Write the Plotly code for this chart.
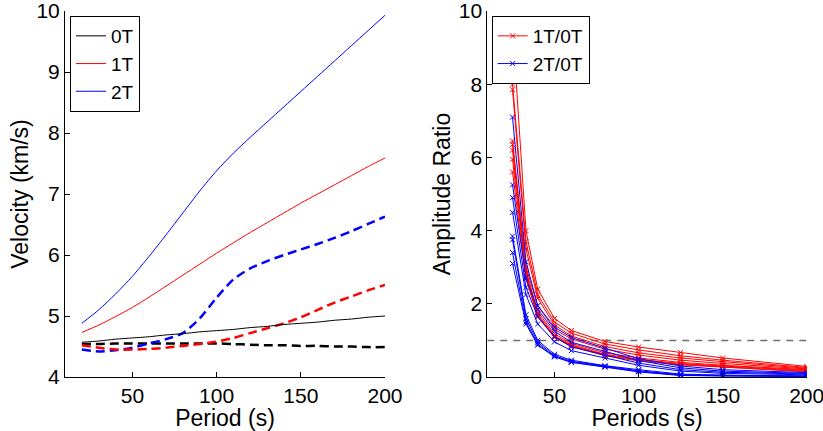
import plotly.graph_objects as go

# ---- Left panel: velocity vs period ----
period = [20, 30, 40, 50, 60, 70, 80, 90, 100, 110, 120, 130, 140, 150, 160, 170, 180, 190, 200]

vel_0T = [4.57, 4.59, 4.62, 4.64, 4.66, 4.69, 4.71, 4.74, 4.76, 4.78, 4.81, 4.83, 4.86, 4.88, 4.90, 4.93, 4.95, 4.98, 5.00]
vel_1T = [4.73, 4.85, 4.99, 5.14, 5.31, 5.49, 5.67, 5.85, 6.03, 6.20, 6.37, 6.53, 6.69, 6.85, 7.00, 7.15, 7.30, 7.45, 7.59]
vel_2T = [4.88, 5.10, 5.36, 5.65, 5.98, 6.33, 6.69, 7.05, 7.38, 7.67, 7.93, 8.18, 8.43, 8.68, 8.93, 9.18, 9.43, 9.68, 9.93]

vel_0T_d = [4.54, 4.54, 4.55, 4.55, 4.55, 4.55, 4.55, 4.55, 4.55, 4.54, 4.53, 4.52, 4.52, 4.51, 4.51, 4.50, 4.50, 4.49, 4.49]
vel_1T_d = [4.52, 4.48, 4.45, 4.45, 4.46, 4.48, 4.51, 4.54, 4.58, 4.64, 4.72, 4.80, 4.88, 4.98, 5.10, 5.22, 5.32, 5.42, 5.51]
vel_2T_d = [4.45, 4.42, 4.44, 4.48, 4.55, 4.62, 4.72, 4.96, 5.30, 5.60, 5.78, 5.90, 6.00, 6.09, 6.18, 6.28, 6.39, 6.51, 6.63]

# ---- Right panel: amplitude ratios ----
periods = [25, 33, 40, 50, 60, 80, 100, 125, 150, 200]

ratio_1T = [
    [9.6, 4.0, 2.4, 1.6, 1.27, 0.97, 0.82, 0.67, 0.52, 0.29],
    [8.0, 3.7, 2.25, 1.5, 1.2, 0.9, 0.74, 0.58, 0.46, 0.26],
    [7.85, 3.5, 2.15, 1.42, 1.12, 0.83, 0.66, 0.52, 0.42, 0.24],
    [6.45, 3.0, 1.95, 1.3, 1.04, 0.76, 0.6, 0.46, 0.37, 0.22],
    [6.35, 2.92, 1.78, 1.18, 0.92, 0.66, 0.52, 0.4, 0.32, 0.2],
    [6.2, 2.85, 1.72, 1.13, 0.88, 0.62, 0.48, 0.37, 0.3, 0.18],
    [5.95, 2.75, 1.68, 1.1, 0.86, 0.6, 0.46, 0.35, 0.28, 0.16],
    [5.6, 2.68, 1.64, 1.08, 0.84, 0.58, 0.44, 0.33, 0.27, 0.14],
]

ratio_2T = [
    [7.1, 3.15, 1.95, 1.36, 1.08, 0.78, 0.5, 0.3, 0.2, 0.12],
    [5.25, 2.7, 1.85, 1.25, 0.95, 0.7, 0.45, 0.25, 0.16, 0.1],
    [4.9, 2.45, 1.65, 1.1, 0.82, 0.6, 0.38, 0.2, 0.13, 0.08],
    [4.5, 2.25, 1.45, 0.96, 0.72, 0.52, 0.32, 0.16, 0.1, 0.06],
    [3.85, 1.7, 1.0, 0.62, 0.46, 0.31, 0.2, 0.08, 0.05, 0.03],
    [3.75, 1.6, 0.95, 0.58, 0.43, 0.29, 0.17, 0.06, 0.04, 0.02],
    [3.4, 1.5, 0.9, 0.56, 0.41, 0.28, 0.15, 0.05, 0.03, 0.02],
    [3.1, 1.45, 0.87, 0.55, 0.4, 0.27, 0.14, 0.04, 0.03, 0.01],
]

RED = "#ff0000"
BLUE = "#0000ff"
FONT = "Liberation Sans, Arial, Helvetica, sans-serif"

fig = go.Figure()

# dashed curves (drawn first, no legend)
for ys, col in [(vel_0T_d, "black"), (vel_2T_d, BLUE), (vel_1T_d, RED)]:
    fig.add_trace(go.Scatter(x=period, y=ys, mode="lines", showlegend=False,
                             line=dict(color=col, width=2.5, dash="9px,5px",
                                       shape="spline", smoothing=0.7),
                             xaxis="x", yaxis="y"))

for ys, col, name in [(vel_0T, "black", "0T"), (vel_1T, RED, "1T"), (vel_2T, BLUE, "2T")]:
    fig.add_trace(go.Scatter(x=period, y=ys, mode="lines", name=name,
                             line=dict(color=col, width=1, shape="spline", smoothing=0.7),
                             xaxis="x", yaxis="y", legend="legend"))

# reference line at ratio = 1
fig.add_trace(go.Scatter(x=[10, 200], y=[1, 1], mode="lines", showlegend=False,
                         line=dict(color="#707070", width=1.5, dash="7px,6px"),
                         xaxis="x2", yaxis="y2"))

for group, col, name in [(ratio_1T, RED, "1T/0T"), (ratio_2T, BLUE, "2T/0T")]:
    for i, ys in enumerate(group):
        fig.add_trace(go.Scatter(x=periods, y=ys, mode="lines+markers", name=name,
                                 showlegend=(i == 0),
                                 line=dict(color=col, width=1),
                                 marker=dict(symbol="x-thin", size=5, color=col,
                                             line=dict(color=col, width=1)),
                                 xaxis="x2", yaxis="y2", legend="legend2"))

W, H = 823, 431
axis_common = dict(showline=True, linecolor="black", linewidth=1, ticks="inside",
                   ticklen=5, tickcolor="black", showgrid=False, zeroline=False,
                   tickfont=dict(size=21, color="black", family=FONT),
                   mirror=False, automargin=False, ticklabeloverflow="allow")
title_font = dict(size=23, color="black", family=FONT)
legend_font = dict(size=19, family=FONT, color="black")

fig.update_layout(
    width=W, height=H,
    margin=dict(l=0, r=0, t=11, b=54),
    paper_bgcolor="white", plot_bgcolor="white",
    font=dict(family=FONT, color="black"),
    xaxis=dict(domain=[65 / W, 385 / W], range=[10, 200], tickvals=[50, 100, 150, 200],
               title=dict(text="Period (s)", font=title_font, standoff=0),
               anchor="y", **axis_common),
    yaxis=dict(domain=[0, 1], range=[4, 10], tickvals=[4, 5, 6, 7, 8, 9, 10],
               title=dict(text="Velocity (km/s)", font=title_font, standoff=1),
               anchor="x", **axis_common),
    xaxis2=dict(domain=[487.3 / W, 806.7 / W], range=[10, 200], tickvals=[50, 100, 150, 200],
                title=dict(text="Periods (s)", font=title_font, standoff=0),
                anchor="y2", **axis_common),
    yaxis2=dict(domain=[0, 1], range=[0, 10], tickvals=[0, 2, 4, 6, 8, 10],
                title=dict(text="Amplitude Ratio", font=title_font, standoff=1),
                anchor="x2", **axis_common),
    legend=dict(x=70 / W, y=1 - 5 / 366, xanchor="left", yanchor="top",
                bgcolor="white", bordercolor="black", borderwidth=1,
                font=legend_font, tracegroupgap=0, itemwidth=30),
    legend2=dict(x=491.7 / W, y=1 - 5 / 366, xanchor="left", yanchor="top",
                 bgcolor="white", bordercolor="black", borderwidth=1,
                 font=legend_font, tracegroupgap=0, itemwidth=30),
)

fig.write_html("out.html")
